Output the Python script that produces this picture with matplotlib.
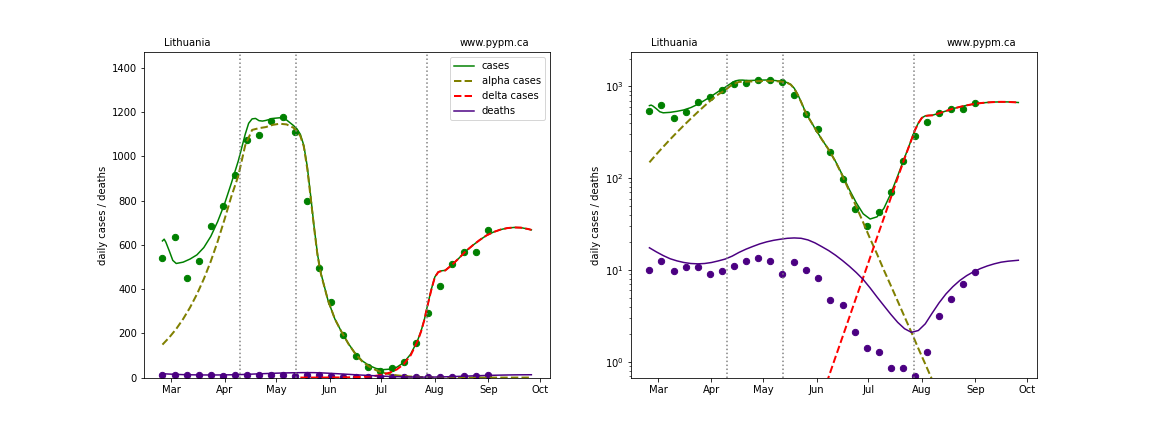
import numpy as np
import matplotlib
matplotlib.use("Agg")
import matplotlib.pyplot as plt
import matplotlib.dates as mdates

region = "Lithuania"
start = np.datetime64("2021-02-24")

# weekly data (daily averages), days after start
data_days = [0, 7, 14, 21, 28, 35, 42, 49, 56, 63, 70, 77, 84, 91, 98, 105, 112,
             119, 126, 133, 140, 147, 154, 161, 168, 175, 182, 189]
cases_data = [540, 635, 450, 525, 685, 775, 915, 1075, 1095, 1160, 1177, 1110, 800,
              495, 340, 194, 99, 46, 30, 43, 70, 155, 292, 414, 515, 568, 568, 666]
deaths_data = [10.14, 12.43, 9.71, 10.71, 10.71, 9.0, 9.86, 11.14, 12.71, 13.71,
               12.43, 9.14, 12.14, 10.14, 8.14, 4.71, 4.14, 2.14, 1.43, 1.29, 0.86,
               0.86, 0.71, 1.29, 3.14, 4.86, 7.14, 9.43]

# model curves
cases_days = [0, 1, 2, 4, 6, 8, 12, 16, 20, 24, 28, 32, 36, 40, 44, 46, 48, 50, 52,
              54, 56, 58, 60, 64, 68, 72, 76, 78, 80, 82, 84, 86, 88, 90, 92, 96, 100,
              104, 108, 112, 116, 120, 124, 128, 132, 136, 140, 144, 148, 150, 152,
              154, 156, 158, 160, 162, 164, 168, 172, 176, 180, 184, 188, 192, 196,
              200, 204, 208, 212, 214]
cases_model = [618, 626, 612, 572, 530, 516, 522, 536, 555, 588, 638, 705, 785, 880,
               980, 1040, 1100, 1150, 1170, 1172, 1162, 1160, 1163, 1172, 1175, 1165,
               1140, 1125, 1100, 1050, 955, 820, 680, 555, 470, 350, 265, 205, 152,
               108, 75, 54, 41, 36, 38, 47, 68, 106, 168, 210, 265, 335, 400, 455,
               478, 483, 485, 510, 540, 572, 598, 622, 643, 658, 669, 676, 679, 678,
               672, 668]

alpha_days = [0, 4, 8, 12, 16, 20, 24, 28, 32, 36, 40, 44, 48, 52, 56, 60, 64, 68,
              72, 76, 78, 80, 82, 84, 86, 88, 90, 92, 96, 100, 104, 108, 112, 116,
              120, 124, 128, 132, 136, 140, 144, 148, 152, 156, 160, 164, 168, 172,
              176, 180, 184, 188, 192, 196, 200, 204, 208, 212, 214]
alpha_model = [149, 182, 220, 265, 317, 377, 446, 525, 615, 715, 820, 912, 1050,
               1120, 1128, 1133, 1143, 1148, 1145, 1130, 1115, 1092, 1045, 945, 812,
               675, 550, 466, 350, 265, 205, 151, 106, 72, 49, 33, 22, 15, 10, 6.8,
               4.6, 3.1, 2.1, 1.4, 0.95, 0.64, 0.43, 0.29, 0.2, 0.13, 0.09, 0.06,
               0.04, 0.027, 0.018, 0.012, 0.008, 0.0055, 0.0045]

delta_days = [80, 84, 88, 92, 96, 100, 104, 108, 112, 116, 120, 124, 128, 132, 136,
              140, 144, 148, 150, 152, 154, 156, 158, 160, 162, 164, 168, 172, 176,
              180, 184, 188, 192, 196, 200, 204, 208, 212, 214]
delta_model = [0.035, 0.057, 0.094, 0.155, 0.255, 0.42, 0.69, 1.14, 1.87, 3.08, 5.07,
               8.3, 13.7, 22.6, 37, 61, 101, 165, 208, 263, 333, 398, 454, 477, 482,
               484, 510, 540, 572, 598, 622, 643, 658, 669, 676, 679, 678, 672, 668]

deaths_days = [0, 4, 8, 12, 16, 20, 24, 28, 32, 36, 40, 44, 48, 52, 56, 60, 64, 68,
               72, 76, 80, 84, 88, 92, 96, 100, 104, 108, 112, 116, 120, 124, 128,
               132, 136, 140, 144, 148, 152, 156, 160, 164, 168, 172, 176, 180, 184,
               188, 192, 196, 200, 204, 208, 212, 214]
deaths_model = [17.5, 15.8, 14.4, 13.3, 12.6, 12.1, 11.8, 11.7, 11.8, 12.1, 12.6,
                13.2, 14.2, 15.6, 16.9, 18.1, 19.3, 20.3, 21.1, 21.7, 22.2, 22.4,
                22.2, 21.3, 19.8, 18.0, 16.3, 14.5, 12.7, 11.0, 9.4, 7.9, 6.4, 5.1,
                4.1, 3.3, 2.7, 2.3, 2.1, 2.2, 2.6, 3.4, 4.4, 5.5, 6.6, 7.7, 8.7, 9.6,
                10.4, 11.1, 11.7, 12.2, 12.5, 12.7, 12.8]

# transition dates
transitions = ["2021-04-10T06", "2021-05-12T08", "2021-07-27T08"]


def to_dates(days):
    return start + np.array(days, dtype="timedelta64[D]")


fig, axes = plt.subplots(1, 2, figsize=(16, 6))
fig.subplots_adjust(left=0.125, right=0.9, bottom=0.126, top=0.879, wspace=0.2)

for i, ax in enumerate(axes):
    ax.scatter(to_dates(data_days), cases_data, color="green", s=40)
    ax.scatter(to_dates(data_days), deaths_data, color="indigo", s=40)

    ax.plot(to_dates(cases_days), cases_model, color="green", lw=1.5, label="cases")
    ax.plot(to_dates(alpha_days), alpha_model, color="olive", lw=2, ls="--",
            label="alpha cases")
    ax.plot(to_dates(delta_days), delta_model, color="red", lw=2, ls="--",
            label="delta cases")
    ax.plot(to_dates(deaths_days), deaths_model, color="indigo", lw=1.5,
            label="deaths")

    for t in transitions:
        ax.axvline(np.datetime64(t), color="grey", ls=":", lw=1.5)

    ax.xaxis.set_major_locator(mdates.MonthLocator())
    ax.xaxis.set_major_formatter(mdates.DateFormatter("%b"))
    ax.set_ylabel("daily cases / deaths")
    ax.text(0.05, 1.02, region, transform=ax.transAxes)
    ax.text(0.95, 1.02, "www.pypm.ca", transform=ax.transAxes, ha="right")

axes[0].set_ylim(0, 1.25 * max(cases_data))
axes[0].legend(loc="upper right")

axes[1].set_yscale("log")
axes[1].set_ylim(0.676, 2.0 * max(cases_data))

fig.savefig("out.png", dpi=72)
